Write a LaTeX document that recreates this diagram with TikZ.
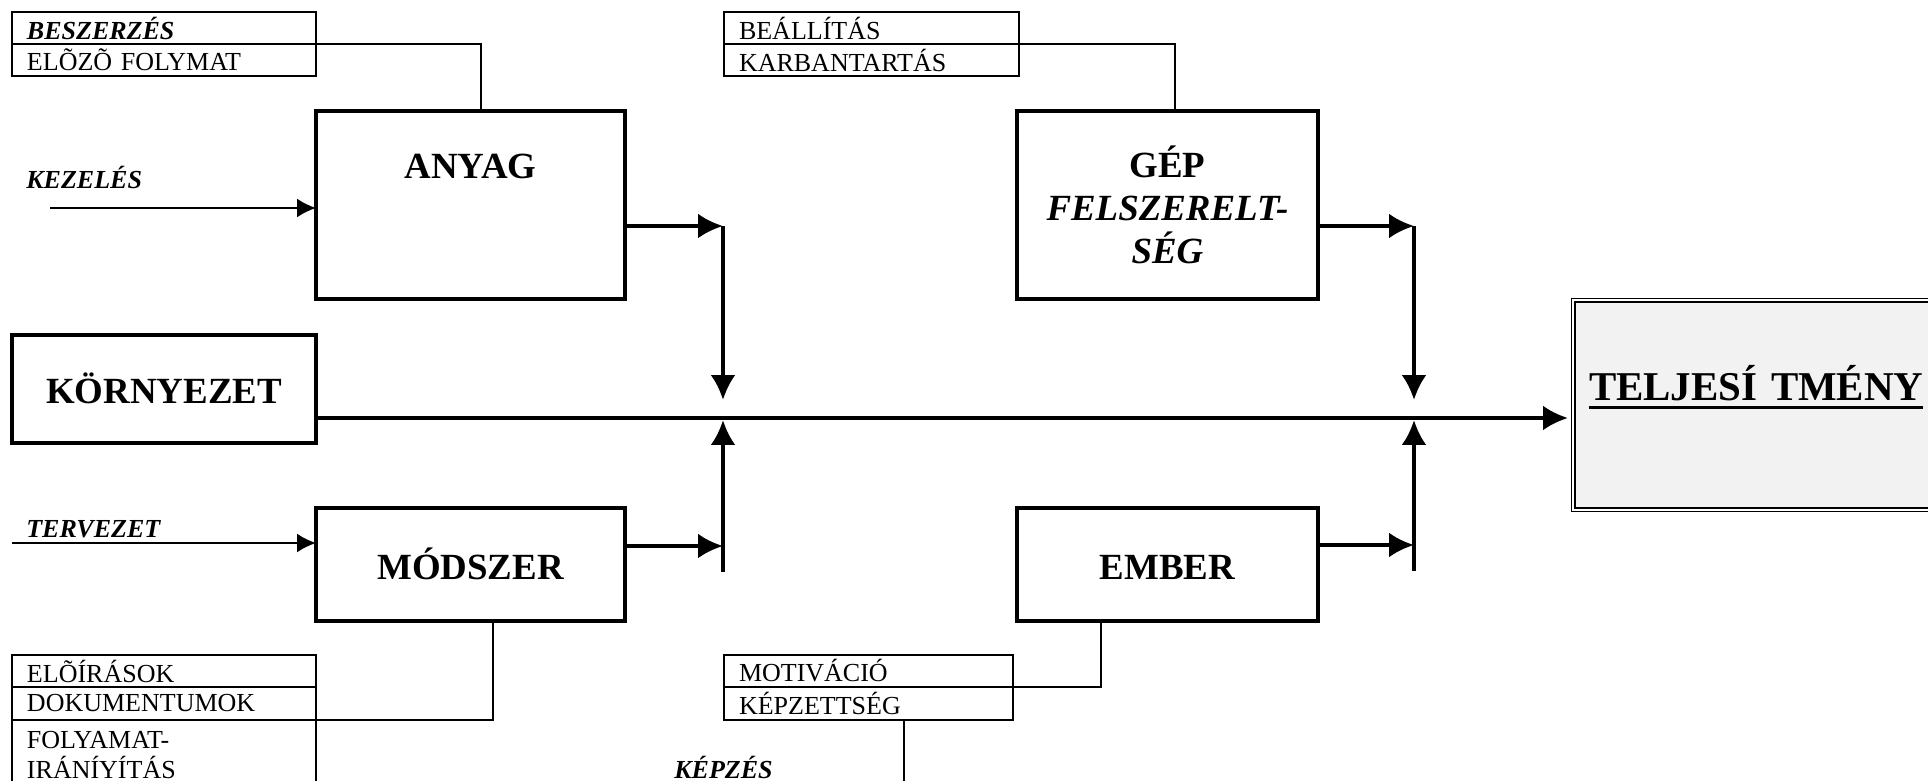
\documentclass[tikz,border=0pt]{standalone}
\usepackage{fontspec}
\setmainfont{Liberation Serif}
\usetikzlibrary{arrows.meta,positioning,calc}
\definecolor{panel}{HTML}{F2F2F2}
\newcommand\cellfont{\fontsize{14.8}{17.6}\selectfont}
\newcommand\blockfont{\fontsize{21}{24.5}\selectfont\bfseries}
\newcommand\thickul[1]{\setbox0\hbox{#1}\rlap{\rule[-0.2em]{\wd0}{0.07em}}\box0}
\tikzset{
  block/.style={draw,line width=0.07cm,minimum height=3.76cm,minimum width=6.18cm,anchor=north west,outer sep=0pt,font=\blockfont,align=center},
  flat/.style={text height=0.6cm,text depth=0cm},
  cell/.style={draw,line width=0.04cm,outer sep=0pt,inner xsep=0.3cm,inner ysep=0pt,minimum height=0.64cm,align=left,font=\cellfont},
  note/.style={anchor=west,inner sep=0pt,font=\cellfont\bfseries\itshape},
  thk/.style={line width=0.08cm},
  thn/.style={line width=0.04cm},
  tip/.style={-{Latex[length=0.5cm,width=0.5cm]}},
  smalltip/.style={-{Latex[length=0.38cm,width=0.38cm]}}
}
\begin{document}
\begin{tikzpicture}[x=0.02cm,y=-0.02cm]
\useasboundingbox (0,0) rectangle (1928,781);\clip (0,0) rectangle (1928,781);
\node[block,text height=0.5cm,text depth=1.57cm] (anyag) at (316,111) {ANYAG};
\node[block,minimum width=6.02cm] (gep) at (1017,111) {GÉP\\\textit{FELSZERELT-}\\\textit{SÉG}};
\node[block,flat,minimum width=6.08cm,minimum height=2.16cm] (korny) at (12,335) {KÖRNYEZET};
\node[block,flat,minimum height=2.26cm] (modszer) at (316,508) {MÓDSZER};
\node[block,flat,minimum width=6.02cm,minimum height=2.26cm] (ember) at (1017,508) {EMBER};
\node[draw,double,double distance=0.04cm,line width=0.03cm,fill=panel,anchor=north west,outer sep=0pt,minimum height=4.2cm,inner xsep=0.32cm,text width=9cm,align=left,text height=0.6cm,text depth=0.78cm,font=\fontsize{23.3}{28}\selectfont\bfseries] (telj) at (1573,300) {\thickul{TELJESÍ TMÉNY}};
\node[cell,anchor=north west,text width=5.48cm] (besz) at (12,12) {\textbf{\textit{BESZERZÉS}}};
\node[cell,below=0pt of besz,text width=5.48cm] (eloz) {ELÕZÕ FOLYMAT};
\node[cell,anchor=north west,text width=5.3cm] (beall) at (724,12) {BEÁLLÍTÁS};
\node[cell,below=0pt of beall,text width=5.3cm] (karb) {KARBANTARTÁS};
\node[cell,anchor=north west,text width=5.48cm] (eloir) at (12,655) {ELÕÍRÁSOK};
\node[cell,below=0pt of eloir,text width=5.48cm,minimum height=0.66cm] (doku) {DOKUMENTUMOK};
\node[cell,below=0pt of doku,text width=5.48cm,minimum height=1.4cm] (foly) {FOLYAMAT-\\IRÁNÍYÍTÁS};
\node[cell,anchor=north west,text width=5.18cm] (motiv) at (724,655) {MOTIVÁCIÓ};
\node[cell,below=0pt of motiv,text width=5.18cm,minimum height=0.66cm] (kepz) {KÉPZETTSÉG};
\node[note] (kezel) at (26,177) {KEZELÉS};
\node[note] (terv) at (26,529) {TERVEZET};
\node[note] (kepzes) at (674,767) {KÉPZÉS};
\coordinate (kin) at (50,208);\coordinate (tin) at (12,543);\coordinate (kend) at (904,790);
\coordinate (ja) at (723,226);\coordinate (jm) at (723,546);\coordinate (ca) at (723,418);
\coordinate (jg) at (1414,226);\coordinate (je) at (1414,545);\coordinate (cb) at (1414,418);
\draw[thn] (eloz.north east) -| ([xshift=0.22cm]anyag.north);
\draw[thn] (karb.north east) -| ([xshift=0.15cm]gep.north);
\draw[thn] (foly.north east) -| ([xshift=0.46cm]modszer.south);
\draw[thn] (kepz.north east) -| ([xshift=-1.33cm]ember.south);
\draw[thn] (kepz.south-|kend) -- (kend);
\draw[thn,smalltip] (kin) -- (kin-|anyag.west);\draw[thn,smalltip] (tin) -- (tin-|modszer.west);
\draw[thk,tip] (anyag.east|-ja) -- (ja);\draw[thk,tip,shorten >=0.36cm] (ja) -- (ca);
\draw[thk,tip] (modszer.east|-jm) -- (jm);\draw[thk,tip,shorten >=0.04cm] ([yshift=-0.52cm]jm) -- (ca);
\draw[thk,tip] (gep.east|-jg) -- (jg);\draw[thk,tip,shorten >=0.36cm] (jg) -- (cb);
\draw[thk,tip] (ember.east|-je) -- (je);\draw[thk,tip,shorten >=0.04cm] ([yshift=-0.52cm]je) -- (cb);
\draw[thk,tip,shorten >=0.1cm] (korny.east|-ca) -- (telj.west|-ca);
\end{tikzpicture}
\end{document}
